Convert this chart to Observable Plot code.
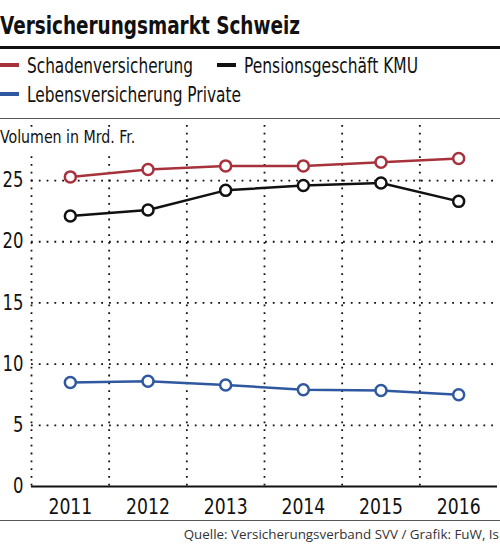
<!DOCTYPE html>
<html>
<head>
<meta charset="utf-8">
<script src="https://cdn.jsdelivr.net/npm/d3@7"></script>
<script src="https://cdn.jsdelivr.net/npm/@observablehq/plot@0.6"></script>
<style>
  html, body { margin: 0; padding: 0; background: #fff; }
  #wrap { position: relative; width: 500px; height: 545px; overflow: hidden; font-family: "Liberation Sans Narrow", "DejaVu Sans Condensed", sans-serif; color: #111; }
  .abs { position: absolute; white-space: nowrap; line-height: 1; transform-origin: 0 0; }
  #title { left: 0; top: 12.8px; font-size: 25px; font-weight: bold; }
  #rule1 { position: absolute; left: 0; top: 46px; width: 500px; height: 3px; background: #111; }
  #rule2 { position: absolute; left: 0; top: 118px; width: 500px; height: 1px; background: #555; }
  #rule3 { position: absolute; left: 0; top: 520px; width: 500px; height: 1px; background: #555; }
  .leg { font-size: 22px; }
  .sw { position: absolute; width: 19px; height: 4px; }
  #unit { left: 0; top: 127.8px; font-size: 18px; background: #fff; padding-bottom: 9px; padding-right: 2px; }
  #caption { right: 1px; top: 527.5px; font-family: "Open Sans", sans-serif; font-size: 13.4px; color: #333; }
  #chart { position: absolute; left: 0; top: 120px; }
</style>
</head>
<body>
<div id="wrap">
  <div id="title" class="abs">Versicherungsmarkt Schweiz</div>
  <div id="rule1"></div>
  <div id="legend"></div>
  <div id="rule2"></div>
  <div id="chart"></div>
  <div id="unit" class="abs">Volumen in Mrd. Fr.</div>
  <div id="rule3"></div>
  <div id="caption" class="abs">Quelle: Versicherungsverband SVV / Grafik: FuW, Is</div>
</div>
<script>
const years = [2011, 2012, 2013, 2014, 2015, 2016];
const schaden = [25.3, 25.9, 26.2, 26.2, 26.5, 26.8];
const pension = [22.1, 22.6, 24.2, 24.6, 24.8, 23.3];
const leben = [8.5, 8.6, 8.3, 7.9, 7.85, 7.5];
const seriesNames = ["Schadenversicherung", "Pensionsgeschäft KMU", "Lebensversicherung Private"];
const seriesColors = ["#a8323c", "#111111", "#2f58a0"];
const yTicks = [0, 5, 10, 15, 20, 25];

const seriesValues = [schaden, pension, leben];
const data = [];
seriesNames.forEach((name, s) => {
  years.forEach((year, i) => data.push({ series: name, year, value: seriesValues[s][i] }));
});

// Squeeze a text element horizontally to a given width (condensed look)
function fitWidth(el, w) {
  const cur = el.getBoundingClientRect().width;
  if (cur > 0) el.style.transform = `scaleX(${w / cur})`;
}

// Legend
const legend = document.getElementById("legend");
const legPos = [
  { left: 0, top: 55.4, w: 166 },
  { left: 217, top: 55.4, w: 174 },
  { left: 0, top: 84.4, w: 214 }
];
seriesNames.forEach((name, i) => {
  const sw = document.createElement("div");
  sw.className = "sw";
  sw.style.left = legPos[i].left + "px";
  sw.style.top = (legPos[i].top + 8) + "px";
  sw.style.background = seriesColors[i];
  legend.appendChild(sw);
  const t = document.createElement("div");
  t.className = "abs leg";
  t.style.left = (legPos[i].left + 27) + "px";
  t.style.top = legPos[i].top + "px";
  t.textContent = name;
  legend.appendChild(t);
  fitWidth(t, legPos[i].w);
});
fitWidth(document.getElementById("title"), 300);
{
  const u = document.getElementById("unit");
  const cur = u.getBoundingClientRect().width;
  u.style.transform = `scaleX(${137 / cur})`;
}

const gridX = years.map(y => y - 0.5);
const dash = "1.8,6";

const chart = Plot.plot({
  width: 500,
  height: 396,
  marginTop: 5,
  marginBottom: 30,
  marginLeft: 31,
  marginRight: 3,
  style: { fontFamily: '"Liberation Sans Narrow", "DejaVu Sans Condensed", sans-serif', fontSize: "21px", color: "#111", background: "transparent", overflow: "visible" },
  x: { type: "linear", domain: [years[0] - 0.5, years[years.length - 1] + 0.5] },
  y: { domain: [0, 29.5] },
  color: { domain: seriesNames, range: seriesColors },
  marks: [
    Plot.ruleY(yTicks.filter(d => d > 0), { stroke: "#111", strokeWidth: 1.8, strokeDasharray: dash }),
    Plot.ruleX(gridX, { stroke: "#111", strokeWidth: 1.8, strokeDasharray: dash }),
    Plot.ruleY([0], { stroke: "#111", strokeWidth: 2 }),
    Plot.line(data, { x: "year", y: "value", z: "series", stroke: "series", strokeWidth: 2.5 }),
    Plot.dot(data, { x: "year", y: "value", stroke: "series", fill: "white", r: 5.5, strokeWidth: 2.5 }),
    Plot.axisX({ ticks: years, tickFormat: d => String(d), tickSize: 0, tickPadding: 12, label: null, fontSize: 22 }),
    Plot.axisY({ ticks: yTicks, tickSize: 0, tickPadding: 8, label: null })
  ]
});
document.getElementById("chart").appendChild(chart);

// condense axis tick labels
d3.select(chart).selectAll("text").each(function () {
  const L = this.getComputedTextLength();
  if (L > 0) {
    this.setAttribute("textLength", (L * 0.87).toFixed(2));
    this.setAttribute("lengthAdjust", "spacingAndGlyphs");
  }
});
</script>
</body>
</html>
